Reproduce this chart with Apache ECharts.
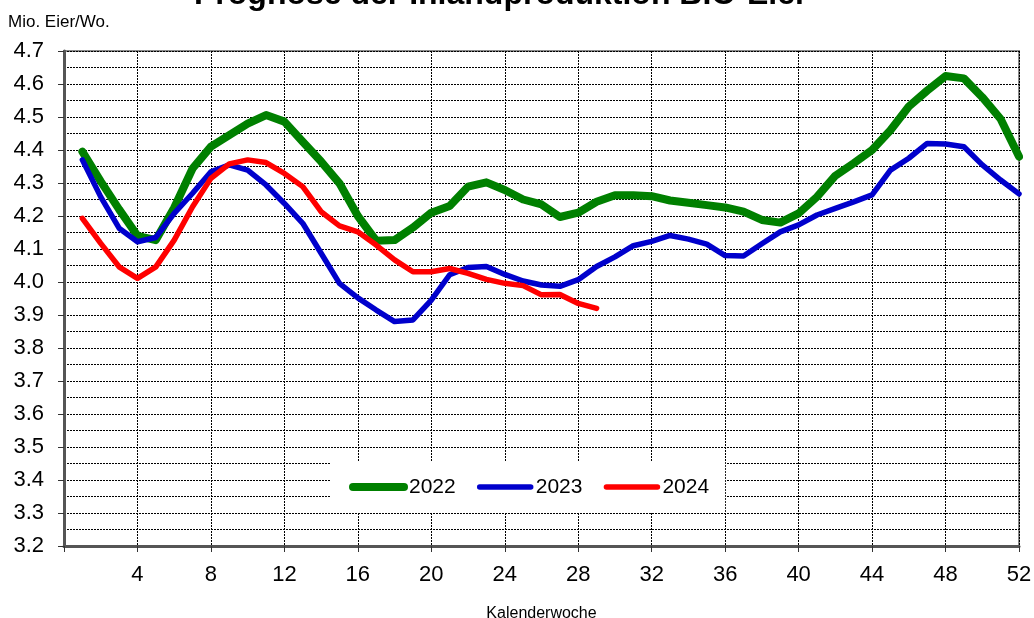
<!DOCTYPE html>
<html>
<head>
<meta charset="utf-8">
<script src="https://cdn.jsdelivr.net/npm/echarts@6/dist/echarts.min.js"></script>
<style>
html,body{margin:0;padding:0;background:#fff;}
#c{width:1034px;height:618px;}
</style>
</head>
<body>
<div id="c"></div>
<script>
const weeks = Array.from({length: 52}, (_, i) => i + 1);
const seriesNames = ['2022', '2023', '2024'];
const y2022 = [4.395,4.305,4.22,4.14,4.127,4.225,4.344,4.41,4.445,4.48,4.506,4.486,4.425,4.365,4.299,4.2,4.125,4.127,4.165,4.21,4.23,4.289,4.302,4.279,4.25,4.235,4.197,4.21,4.243,4.263,4.263,4.26,4.247,4.24,4.233,4.226,4.213,4.188,4.18,4.208,4.258,4.322,4.36,4.4,4.46,4.532,4.58,4.624,4.617,4.56,4.494,4.38];
const y2023 = [4.37,4.258,4.163,4.122,4.135,4.208,4.269,4.334,4.355,4.339,4.294,4.238,4.178,4.087,3.996,3.952,3.915,3.88,3.885,3.945,4.022,4.044,4.047,4.023,4.003,3.991,3.987,4.007,4.047,4.076,4.11,4.123,4.141,4.13,4.115,4.08,4.079,4.116,4.152,4.173,4.203,4.223,4.243,4.264,4.339,4.375,4.42,4.418,4.41,4.355,4.309,4.267];
const y2024 = [4.193,4.117,4.046,4.011,4.046,4.127,4.228,4.314,4.358,4.37,4.362,4.329,4.289,4.213,4.17,4.152,4.112,4.067,4.031,4.031,4.041,4.026,4.008,3.996,3.989,3.961,3.962,3.935,3.92];
const colors = ['#008000', '#0000CC', '#FF0000'];
const widths = [8, 5.5, 5.5];

const FONT = 'Arial, "Liberation Sans", sans-serif';
const toPairs = arr => arr.map((v, i) => [weeks[i], v]);
const allData = [y2022, y2023, y2024];

const chart = echarts.init(document.getElementById('c'), null, {renderer: 'canvas'});
const thick = 'path://M4,0 L55,0 A4,4 0 0 1 55,8 L4,8 A4,4 0 0 1 4,0 Z';
const thin = 'path://M0,0 M4,1.25 L55,1.25 A2.75,2.75 0 0 1 55,6.75 L4,6.75 A2.75,2.75 0 0 1 4,1.25 Z M59,8';
const icons = [thick, thin, thin];

chart.setOption({
  animation: false,
  backgroundColor: '#fff',
  title: {
    text: 'Prognose der Inlandproduktion BIO-Eier',
    left: 189,
    top: -26,
    textStyle: {fontFamily: FONT, fontSize: 32, fontWeight: 'bold', color: '#000'}
  },
  grid: {
    left: 64, right: 15, top: 51, bottom: 72,
    outerBoundsMode: 'none', containLabel: false,
    show: true, borderColor: '#8a8a8a', borderWidth: 2, backgroundColor: 'transparent'
  },
  legend: {
    data: seriesNames.map((n, i) => ({name: n, icon: icons[i], itemStyle: {color: colors[i]}})),
    left: 331, top: 462,
    padding: [14, 16, 14, 18],
    backgroundColor: '#fff',
    itemWidth: 59, itemHeight: 8, itemGap: 20,
    textStyle: {fontFamily: FONT, fontSize: 21, color: '#000', lineHeight: 22, padding: [0, 0, 0, -4]}
  },
  xAxis: {
    type: 'value', min: 0, max: 52, interval: 4,
    name: 'Kalenderwoche', nameLocation: 'middle', nameGap: 60,
    nameTextStyle: {fontFamily: FONT, fontSize: 16, color: '#000'},
    axisLine: {show: true, onZero: false, lineStyle: {color: '#555', width: 3}},
    axisTick: {show: true, length: 6, lineStyle: {color: '#333', width: 1}},
    axisLabel: {fontFamily: FONT, fontSize: 22, color: '#000', margin: 18,
      formatter: v => (v === 0 ? '' : String(v))},
    splitLine: {show: true, lineStyle: {color: '#000', width: 1, type: [2, 1]}}
  },
  yAxis: {
    type: 'value', min: 3.2, max: 4.7, interval: 0.1,
    name: 'Mio. Eier/Wo.', nameLocation: 'end', nameGap: 20,
    nameTextStyle: {fontFamily: FONT, fontSize: 17, color: '#000', align: 'left', padding: [0, 0, 0, -56]},
    axisLine: {show: true, lineStyle: {color: '#555', width: 3}},
    axisTick: {show: true, length: 6, lineStyle: {color: '#333', width: 1}},
    axisLabel: {fontFamily: FONT, fontSize: 22, color: '#000', margin: 20,
      formatter: v => v.toFixed(1)},
    splitLine: {show: true, lineStyle: {color: '#000', width: 1, type: [2, 1]}},
    minorTick: {show: false, splitNumber: 2},
    minorSplitLine: {show: true, lineStyle: {color: '#000', width: 1, type: [2, 1]}}
  },
  series: seriesNames.map((n, i) => ({
    name: n, type: 'line', data: toPairs(allData[i]),
    showSymbol: false, symbol: 'none',
    lineStyle: {color: colors[i], width: widths[i], cap: 'round', join: 'round'},
    itemStyle: {color: colors[i]},
    z: 2 + i
  }))
});
</script>
</body>
</html>
